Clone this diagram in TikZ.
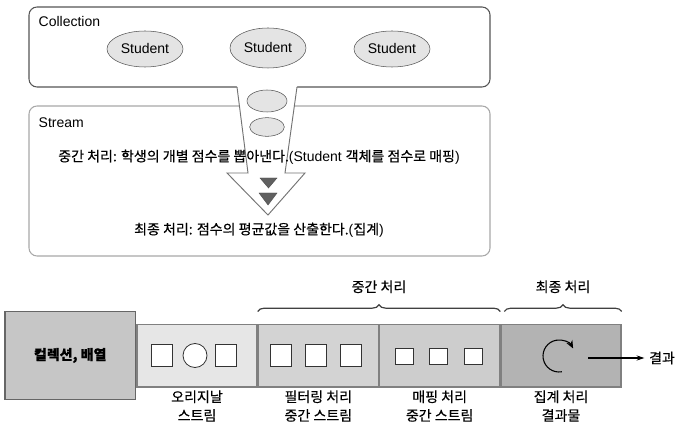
\documentclass[tikz,border=0pt]{standalone}
\usepackage{fontspec}
\setmainfont{Liberation Sans}
\newfontfamily\kr[FakeBold=0.4]{Noto Sans CJK KR}
\usetikzlibrary{shapes.geometric,decorations.pathreplacing,arrows.meta,positioning}
\definecolor{edge}{HTML}{555555}
\definecolor{soft}{HTML}{A8A8A8}
\definecolor{ovalfill}{HTML}{E4E4E4}
\definecolor{segA}{HTML}{E6E6E6}
\definecolor{segB}{HTML}{D3D3D3}
\definecolor{segC}{HTML}{CDCDCD}
\definecolor{segD}{HTML}{B3B3B3}
\definecolor{colfill}{HTML}{C6C6C6}
\tikzset{
  student/.style={ellipse,draw=edge,fill=ovalfill,minimum width=57pt,minimum height=27pt,inner sep=0pt,font=\rmfamily\fontsize{10.5}{12}\selectfont},
  blob/.style={ellipse,draw=edge,fill=ovalfill,inner sep=0pt},
  panel/.style={rounded corners=6pt,line width=0.8pt},
  funnel/.style={draw=gray!90!black,line width=0.7pt},
  tri/.style={fill=gray!75!black,draw=black!70,line width=0.3pt},
  seg/.style={draw=gray,line width=1pt,minimum width=90pt,minimum height=47pt,inner sep=0pt},
  box/.style={draw=black!80,fill=white,line width=0.6pt,inner sep=0pt},
  sub/.style={align=center,inner sep=2pt},
  brace/.style={decorate,decoration={brace,amplitude=5pt},draw=black!75,line width=0.9pt}
}
\begin{document}
\begin{tikzpicture}[x=0.75pt,y=-0.75pt,font=\kr\fontsize{10.5}{14}\selectfont]
\useasboundingbox (0,0) rectangle (688,441);
\fill[white] (0,0) rectangle (688,441);

% collection and stream panels
\draw[panel,draw=edge] (29,7) rectangle (490,87);
\draw[panel,draw=soft] (29,106) rectangle (490,256);
\node[anchor=west,font=\rmfamily\fontsize{10.5}{12}\selectfont] (coll) at (34,22) {Collection};
\node[anchor=west,font=\rmfamily\fontsize{10.5}{12}\selectfont] (strm) at (34,123) {Stream};
\node[student] (s1) at (145,49) {Student};
\node[student,minimum height=30pt] (s2) at (268,48) {Student};
\node[student] (s3) at (392,49) {Student};

% funnel arrow
\fill[white] (236.8,85) -- (248,173) -- (227,173) -- (268,215) -- (305,173) -- (285,173) -- (297.3,85) -- cycle;
\draw[funnel] (237,87) -- (248,173) -- (227,173) -- (268,215) -- (305,173) -- (285,173) -- (297,87);
\node[blob,minimum width=30pt,minimum height=16.5pt] (e1) at (267,101) {};
\node[blob,minimum width=26pt,minimum height=14pt] (e2) at (267,127) {};
\draw[tri] (260,178) -- (277,178) -- (268.5,188) -- cycle;
\draw[tri] (259,193) -- (277,193) -- (268,205) -- cycle;

\node (mid) at (259,157) {중간 처리: 학생의 개별 점수를 뽑아낸다.{\rmfamily(Student }객체를 점수로 매핑{\rmfamily)}};
\node (fin) at (259,230) {최종 처리: 점수의 평균값을 산출한다.{\rmfamily(}집계{\rmfamily)}};

% stream pipeline
\node[seg,fill=segA] (orig) at (197,355.5) {};
\node[seg,fill=segB,right=0pt of orig] (filt) {};
\node[seg,fill=segC,right=0pt of filt] (map) {};
\node[seg,fill=segD,right=0pt of map] (agg) {};
\node[draw=gray!80!black,fill=colfill,line width=1.2pt,minimum width=98pt,minimum height=66pt,left=0pt of orig,font=\kr\bfseries\fontsize{10.5}{12}\selectfont] (col) {컬렉션, 배열};

\node[box,minimum width=16pt,minimum height=17pt] (o1) at (162,355.5) {};
\node[box,circle,minimum size=18pt] (o2) at (195,355.5) {};
\node[box,minimum width=16pt,minimum height=17pt] (o3) at (226,355.5) {};
\foreach \x/\n in {281/f1,316/f2,351/f3}
  \node[box,minimum width=16pt,minimum height=17pt] (\n) at (\x,355.5) {};
\foreach \x/\n in {404/m1,438/m2,473/m3}
  \node[box,minimum width=13.5pt,minimum height=12pt] (\n) at (\x,356) {};

\draw[line width=0.8pt,-{Stealth[length=6pt,width=5pt]}] (559,356) ++(80:16) arc[start angle=80,end angle=332,radius=16];

\coordinate (out) at (588,358);
\node (res) at (662,358) {결과};
\draw[line width=0.8pt,-{Stealth[length=6pt,width=4pt]}] (out) -- (res);

\node[sub,below=0pt of orig] (lo) {오리지날\\스트림};
\node[sub,below=0pt of filt] (lf) {필터링 처리\\중간 스트림};
\node[sub,below=0pt of map] (lm) {매핑 처리\\중간 스트림};
\node[sub,below=0pt of agg] (la) {집계 처리\\결과물};

% braces
\draw[brace] ([yshift=9pt]filt.north west) -- ([yshift=9pt]map.north east) node[midway,above=10pt] (bm) {중간 처리};
\draw[brace] ([xshift=3pt,yshift=9pt]agg.north west) -- ([yshift=9pt]agg.north east) node[midway,above=10pt] (bf) {최종 처리};
\end{tikzpicture}
\end{document}
